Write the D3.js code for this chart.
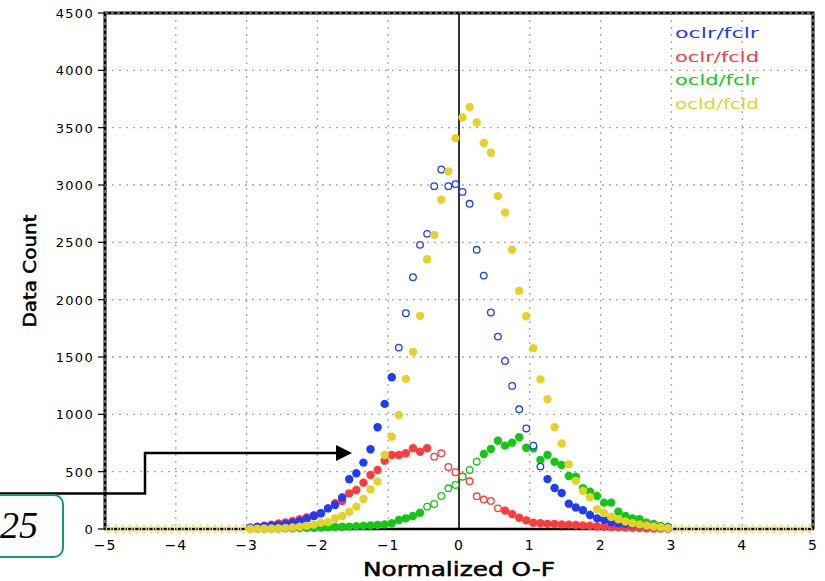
<!DOCTYPE html>
<html><head><meta charset="utf-8">
<script src="https://cdn.jsdelivr.net/npm/d3@7"></script>
<style>
html,body{margin:0;padding:0;background:#fff;}
svg{display:block;}
</style></head>
<body>
<script>
// bin centres (Normalized O-F)
const bins = [-2.95,-2.85,-2.75,-2.65,-2.55,-2.45,-2.35,-2.25,-2.15,-2.05,
  -1.95,-1.85,-1.75,-1.65,-1.55,-1.45,-1.35,-1.25,-1.15,-1.05,
  -0.95,-0.85,-0.75,-0.65,-0.55,-0.45,-0.35,-0.25,-0.15,-0.05,
  0.05,0.15,0.25,0.35,0.45,0.55,0.65,0.75,0.85,0.95,
  1.05,1.15,1.25,1.35,1.45,1.55,1.65,1.75,1.85,1.95,
  2.05,2.15,2.25,2.35,2.45,2.55,2.65,2.75,2.85,2.95];

const oclrFclr = [12,18,24,30,36,44,52,68,90,113,
  137,180,209,275,434,486,579,695,887,1091,
  1324,1582,1882,2196,2478,2574,2990,3135,2990,3008,
  2940,2836,2435,2210,1888,1678,1466,1248,1044,877,
  727,544,435,358,314,221,188,163,122,93,
  79,58,50,45,40,35,30,24,18,12];

const oclrFcld = [12,20,28,38,48,58,70,85,100,120,
  137,180,224,244,311,340,404,471,515,596,
  646,646,660,704,674,704,631,660,541,495,
  459,416,285,257,245,180,160,130,98,75,
  55,50,45,44,40,38,35,30,28,22,
  20,18,15,13,11,9,7,5,4,3];

const ocldFclr = [2,2,3,4,5,6,7,8,10,11,
  13,15,17,19,21,24,27,30,35,40,
  50,79,93,113,142,195,218,288,355,384,
  456,515,587,654,698,770,727,753,800,709,
  704,602,646,587,558,462,456,355,325,288,
  230,230,151,113,93,85,55,44,26,20];

const ocldFcld = [2,3,4,5,7,10,14,20,27,38,
  55,60,93,113,151,195,262,346,413,646,
  805,995,1309,1545,1859,2353,2565,2871,3118,3409,
  3589,3680,3545,3366,3281,2903,2760,2435,2077,1856,
  1577,1305,1131,887,745,564,420,332,277,172,
  140,105,85,65,50,40,30,22,15,8];

// outer bins where only zero counts appear
const outerBins = [-4.95,-4.85,-4.75,-4.65,-4.55,-4.45,-4.35,-4.25,-4.15,-4.05,
  -3.95,-3.85,-3.75,-3.65,-3.55,-3.45,-3.35,-3.25,-3.15,-3.05,
  3.05,3.15,3.25,3.35,3.45,3.55,3.65,3.75,3.85,3.95,
  4.05,4.15,4.25,4.35,4.45,4.55,4.65,4.75,4.85,4.95];
const outerCounts = [0,0,0,0,0,0,0,0,0,0,0,0,0,0,0,0,0,0,0,0,
  0,0,0,0,0,0,0,0,0,0,0,0,0,0,0,0,0,0,0,0];

const xTicks = [-5,-4,-3,-2,-1,0,1,2,3,4,5];
const yTicks = [0,500,1000,1500,2000,2500,3000,3500,4000,4500];

const series = [
  {name:"oclr/fcld", values:oclrFcld, color:"#ff3b3b", open:[-0.4,0.6]},
  {name:"ocld/fclr", values:ocldFclr, color:"#12c812", open:[-0.5,0.3]},
  {name:"oclr/fclr", values:oclrFclr, color:"#1e3cff", open:[-0.9,1.2]},
  {name:"ocld/fcld", values:ocldFcld, color:"#e6d226", open:[9,9]}
];
const legendOrder = ["oclr/fclr","oclr/fcld","ocld/fclr","ocld/fcld"];

const W=825,H=581;
const L=105,R=813,T=13,B=529;
const SANS="DejaVu Sans, sans-serif";
const svg=d3.select("body").append("svg").attr("width",W).attr("height",H)
  .attr("font-family",SANS);
const x=d3.scaleLinear().domain([-5,5]).range([L,R]);
const y=d3.scaleLinear().domain([0,4500]).range([B,T]);

// grid
const g=svg.append("g");
g.selectAll("line.vg").data(xTicks.filter(d=>d!==0&&d!==-5&&d!==5)).join("line")
  .attr("x1",d=>x(d)).attr("x2",d=>x(d)).attr("y1",T).attr("y2",B)
  .attr("stroke","#a8a8a8").attr("stroke-width",1.3).attr("stroke-dasharray","2,5");
g.selectAll("line.hg").data(yTicks.filter(d=>d>0&&d<4500)).join("line")
  .attr("x1",L).attr("x2",R).attr("y1",d=>y(d)).attr("y2",d=>y(d))
  .attr("stroke","#a8a8a8").attr("stroke-width",1.3).attr("stroke-dasharray","2,5");

// zero line
svg.append("line").attr("x1",x(0)).attr("x2",x(0)).attr("y1",T).attr("y2",B)
  .attr("stroke","#000").attr("stroke-width",1.6);

// frame
const frame=`M${L},${B}L${L},${T}L${R},${T}L${R},${B}`;
svg.append("path").attr("d",frame).attr("fill","none").attr("stroke","#000").attr("stroke-width",3);
svg.append("path").attr("d",frame).attr("fill","none").attr("stroke","#fff").attr("stroke-width",0.8).attr("stroke-dasharray","3,3");
svg.append("line").attr("x1",L-1).attr("x2",R+1).attr("y1",B).attr("y2",B).attr("stroke","#000").attr("stroke-width",2.5);

// axes labels
const yAx=svg.append("g");
yAx.selectAll("line").data(yTicks).join("line")
  .attr("x1",L-7).attr("x2",L).attr("y1",d=>y(d)).attr("y2",d=>y(d)).attr("stroke","#000").attr("stroke-width",1.2);
yAx.selectAll("text").data(yTicks).join("text")
  .attr("x",L-11).attr("y",d=>y(d)+5).attr("text-anchor","end")
  .attr("font-size",13).attr("letter-spacing",1.3).attr("fill","#000").text(d=>d);
const xAx=svg.append("g");
xAx.selectAll("text").data(xTicks).join("text")
  .attr("x",d=>x(d)).attr("y",B+21).attr("text-anchor","middle")
  .attr("font-size",14).attr("letter-spacing",1).attr("fill","#000")
  .text(d=>d<0?"\u2212"+Math.abs(d):d);

svg.append("text").attr("x",459).attr("y",576).attr("text-anchor","middle")
  .attr("font-size",19).attr("fill","#000").attr("stroke","#000").attr("stroke-width",0.5)
  .attr("textLength",192).attr("lengthAdjust","spacingAndGlyphs").text("Normalized O-F");
svg.append("text").attr("transform","translate(36,271) rotate(-90)").attr("text-anchor","middle")
  .attr("font-size",18).attr("fill","#000").attr("stroke","#000").attr("stroke-width",0.5)
  .attr("textLength",113).attr("lengthAdjust","spacingAndGlyphs").text("Data Count");

// points
const isOpen=(s,b)=>b>s.open[0]&&b<s.open[1];
series.forEach(s=>{
  const pts=bins.map((b,i)=>({b,v:s.values[i]}));
  const gs=svg.append("g");
  gs.selectAll("circle").data(pts).join("circle")
    .attr("cx",d=>x(d.b)).attr("cy",d=>y(d.v))
    .attr("r",d=>isOpen(s,d.b)?3.3:4.2)
    .attr("fill",d=>isOpen(s,d.b)?"#fff":s.color)
    .attr("stroke",s.color).attr("stroke-width",d=>isOpen(s,d.b)?1.3:0);
});
// outer zero markers (yellow, open)
svg.append("g").selectAll("path").data(outerBins.map((b,i)=>({b,v:outerCounts[i]}))).join("path")
  .attr("d",d3.symbol(d3.symbolDiamond,22))
  .attr("transform",d=>`translate(${x(d.b)},${y(d.v)})`)
  .attr("fill","none").attr("stroke","#ece070").attr("stroke-width",1.2);

// legend
const colorOf=n=>series.find(s=>s.name===n).color;
svg.append("g").selectAll("text").data(legendOrder).join("text")
  .attr("x",675).attr("y",(d,i)=>38+i*23.5)
  .attr("font-size",14).attr("fill",d=>colorOf(d))
  .attr("textLength",84).attr("lengthAdjust","spacingAndGlyphs").text(d=>d);

// annotation arrow
svg.append("path").attr("d","M0,493.5L145,493.5L145,453L337,453")
  .attr("fill","none").attr("stroke","#000").attr("stroke-width",2.5);
svg.append("path").attr("d","M336,445L352,453L336,461Z").attr("fill","#000");

// annotation box
svg.append("rect").attr("x",-20).attr("y",495).attr("width",83).attr("height",62).attr("rx",9)
  .attr("fill","none").attr("stroke","#17977a").attr("stroke-width",2);
svg.append("text").attr("x",0).attr("y",538).attr("text-anchor","start")
  .attr("font-family","Liberation Serif, serif").attr("font-style","italic").attr("font-size",38)
  .attr("fill","#000").text("25");
</script>
</body></html>
